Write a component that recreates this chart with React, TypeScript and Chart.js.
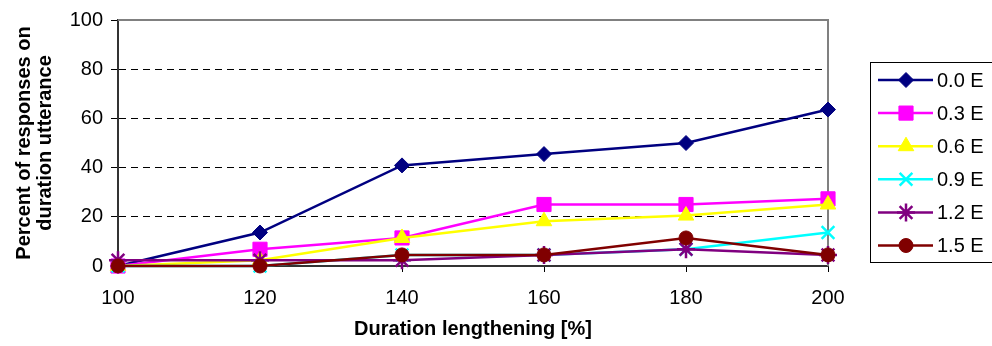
import React, { useEffect, useRef } from "react";
import { Chart, registerables } from "chart.js";
import { drawPoint } from "chart.js/helpers";

Chart.register(...registerables);

const durations = [100, 120, 140, 160, 180, 200];
const seriesLabels = ["0.0 E", "0.3 E", "0.6 E", "0.9 E", "1.2 E", "1.5 E"];
const s00 = [0, 13.6, 40.9, 45.5, 50.0, 63.6];
const s03 = [0, 6.8, 11.4, 25.0, 25.0, 27.3];
const s06 = [0, 2.3, 11.4, 18.2, 20.5, 25.0];
const s09 = [0, 0, 4.5, 4.5, 6.8, 13.6];
const s12 = [2.3, 2.3, 2.3, 4.5, 6.8, 4.5];
const s15 = [0, 0, 4.5, 4.5, 11.4, 4.5];
const yTicks = [0, 20, 40, 60, 80, 100];
const xTitle = "Duration lengthening [%]";
const yTitle = ["Percent of responses on", "duration utterance"];

const seriesValues = [s00, s03, s06, s09, s12, s15];
const colors = ["#000080", "#FF00FF", "#FFFF00", "#00FFFF", "#800080", "#800000"];
const pointStyles = ["rectRot", "rect", "triangle", "crossRot", "star", "circle"];
const pointRadii = [7.5, 10, 9, 9, 9, 7];

const FONT = "Arial, 'Liberation Sans', sans-serif";

const frameAndLegend = {
  id: "frameAndLegend",
  beforeDatasetsDraw(chart: any) {
    const { ctx, chartArea } = chart;
    ctx.save();
    ctx.strokeStyle = "#808080";
    ctx.lineWidth = 2;
    ctx.beginPath();
    ctx.moveTo(chartArea.left, chartArea.top);
    ctx.lineTo(chartArea.right, chartArea.top);
    ctx.lineTo(chartArea.right, chartArea.bottom);
    ctx.stroke();
    ctx.restore();
  },
  afterDraw(chart: any) {
    const { ctx } = chart;
    ctx.save();
    ctx.strokeStyle = "#000";
    ctx.lineWidth = 1;
    ctx.strokeRect(870.5, 62.5, 140, 200);
    chart.data.datasets.forEach((ds: any, i: number) => {
      const y = 80 + i * 33.1;
      ctx.strokeStyle = ds.borderColor;
      ctx.lineWidth = 2.5;
      ctx.beginPath();
      ctx.moveTo(878, y);
      ctx.lineTo(933, y);
      ctx.stroke();
      ctx.fillStyle = ds.pointBackgroundColor;
      ctx.strokeStyle = ds.pointBorderColor;
      ctx.lineWidth = ds.pointBorderWidth;
      drawPoint(ctx, { pointStyle: ds.pointStyle, radius: ds.pointRadius, rotation: 0, borderWidth: ds.pointBorderWidth }, 906, y);
      ctx.fillStyle = "#000";
      ctx.font = `20px ${FONT}`;
      ctx.textBaseline = "middle";
      ctx.textAlign = "left";
      ctx.fillText(ds.label, 937, y + 1);
    });
    ctx.restore();
  },
};

export default function App() {
  const ref = useRef<HTMLCanvasElement>(null);
  useEffect(() => {
    if (!ref.current) return;
    const datasets = seriesLabels.map((label, i) => ({
      label,
      data: durations.map((d, j) => ({ x: d, y: seriesValues[i][j] })),
      borderColor: colors[i],
      backgroundColor: colors[i],
      pointBackgroundColor: colors[i],
      pointBorderColor: colors[i],
      pointBorderWidth: pointStyles[i] === "crossRot" || pointStyles[i] === "star" ? 2.5 : 1,
      pointStyle: pointStyles[i],
      pointRadius: pointRadii[i],
      borderWidth: 2.5,
      tension: 0,
      clip: false as any,
      order: 5 - i,
    }));
    const chart = new Chart(ref.current, {
      type: "line",
      data: { datasets },
      plugins: [frameAndLegend],
      options: {
        animation: false,
        responsive: false,
        events: [],
        layout: { padding: { top: 18, right: 164, left: 0, bottom: 0 } },
        plugins: { legend: { display: false }, tooltip: { enabled: false } },
        scales: {
          x: {
            type: "linear",
            min: durations[0],
            max: durations[durations.length - 1],
            afterFit: (s: any) => { s.height = 80; },
            afterBuildTicks: (s: any) => { s.ticks = durations.map((v) => ({ value: v })); },
            ticks: { color: "#000", font: { family: FONT, size: 20 }, padding: 14, maxRotation: 0 },
            grid: { drawOnChartArea: false, drawTicks: true, tickLength: 6, tickColor: "#000", tickWidth: 1 },
            border: { color: "#333", width: 2 },
            title: { display: true, text: xTitle, color: "#000", font: { family: FONT, size: 20, weight: "bold" }, padding: { top: 0, bottom: 5 } },
          },
          y: {
            min: 0,
            max: 100,
            afterFit: (s: any) => { s.width = 118; },
            afterBuildTicks: (s: any) => { s.ticks = yTicks.map((v) => ({ value: v })); },
            ticks: { color: "#000", font: { family: FONT, size: 20 }, padding: 8 },
            grid: {
              drawOnChartArea: true,
              drawTicks: true,
              tickLength: 7,
              tickColor: "#000",
              color: (c: any) => (c.tick && (c.tick.value === 0 || c.tick.value === 100) ? "rgba(0,0,0,0)" : "#000"),
              lineWidth: 1,
            },
            border: { color: "#333", width: 2, dash: [7, 5] },
            title: { display: true, text: yTitle, color: "#000", font: { family: FONT, size: 20, weight: "bold", lineHeight: 1.05 }, padding: { top: 14, bottom: 0 } },
          },
        },
      } as any,
    });
    return () => chart.destroy();
  }, []);
  return (
    <div style={{ position: "absolute", left: 0, top: 0, width: 992, height: 346, background: "#fff" }}>
      <canvas ref={ref} width={992} height={346} />
    </div>
  );
}
